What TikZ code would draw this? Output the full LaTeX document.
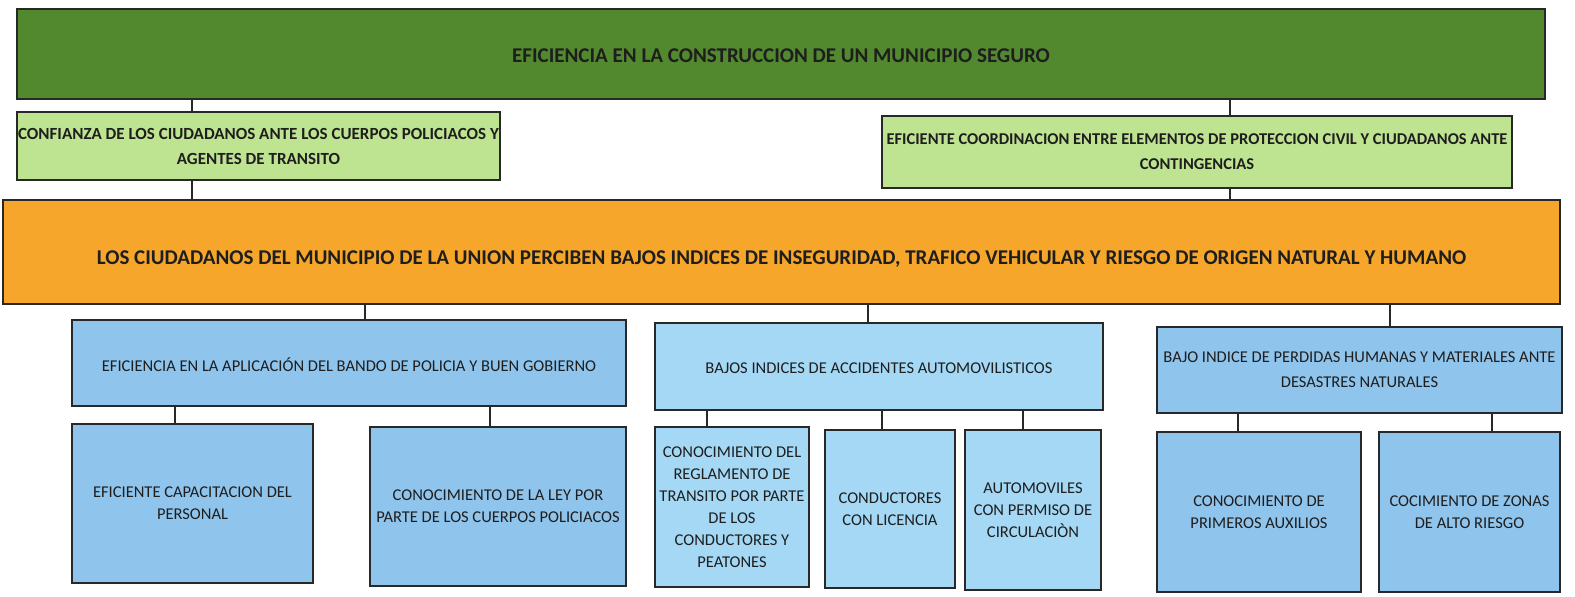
\documentclass[tikz,border=0pt]{standalone}
\usepackage{fontspec}
\setmainfont{Carlito}
\definecolor{dkgreen}{RGB}{82,136,46}
\definecolor{ltgreen}{RGB}{190,228,145}
\definecolor{orng}{RGB}{246,166,42}
\definecolor{blueA}{RGB}{143,196,236}
\definecolor{blueB}{RGB}{164,216,244}
\definecolor{txt}{RGB}{30,30,30}
\definecolor{edge}{RGB}{40,40,40}
\newcommand{\lowertxt}[2]{\raisebox{-#1pt}[0pt][0pt]{#2}}
\tikzset{
  box/.style={draw=edge, line width=1.6pt, inner sep=0.5pt, align=center, text=txt},
  topbox/.style={box, fill=dkgreen, font=\fontsize{21}{25}\selectfont\bfseries},
  midbox/.style={box, fill=ltgreen, font=\fontsize{17}{25}\selectfont\bfseries},
  orbox/.style={box, fill=orng, font=\fontsize{21}{25}\selectfont\bfseries},
  bluebox/.style={box, fill=blueA, font=\fontsize{16.5}{22}\selectfont},
  cyanbox/.style={box, fill=blueB, font=\fontsize{16.5}{22}\selectfont},
  link/.style={draw=edge, line width=1.6pt}
}
\begin{document}
\begin{tikzpicture}[x=1pt,y=-1pt]
\useasboundingbox (0,0) rectangle (1575,597);
% top
\node[topbox, minimum width=1528pt, minimum height=90pt] (top) at (781,54) {\lowertxt{8}{EFICIENCIA EN LA CONSTRUCCION DE UN MUNICIPIO SEGURO}};
% second level
\node[midbox, minimum width=483pt, minimum height=68pt] (lg1) at (258.5,146) {CONFIANZA DE LOS CIUDADANOS ANTE LOS CUERPOS POLICIACOS Y\\AGENTES DE TRANSITO};
\node[midbox, minimum width=630pt, minimum height=72pt, font=\fontsize{16.5}{25}\selectfont\bfseries] (lg2) at (1197,152) {EFICIENTE COORDINACION ENTRE ELEMENTOS DE PROTECCION CIVIL Y CIUDADANOS ANTE\\CONTINGENCIAS};
% orange
\node[orbox, minimum width=1557pt, minimum height=104pt] (org) at (781.5,252) {\lowertxt{12}{LOS CIUDADANOS DEL MUNICIPIO DE LA UNION PERCIBEN BAJOS INDICES DE INSEGURIDAD, TRAFICO VEHICULAR Y RIESGO DE ORIGEN NATURAL Y HUMANO}};
% blue level
\node[bluebox, minimum width=554pt, minimum height=86pt] (b1) at (349,363) {\lowertxt{8}{EFICIENCIA EN LA APLICACIÓN DEL BANDO DE POLICIA Y BUEN GOBIERNO}};
\node[cyanbox, minimum width=448pt, minimum height=87pt] (b2) at (879,366.5) {\lowertxt{7}{BAJOS INDICES DE ACCIDENTES AUTOMOVILISTICOS}};
\node[bluebox, minimum width=405pt, minimum height=86pt, font=\fontsize{16.5}{25}\selectfont] (b3) at (1359.5,370) {BAJO INDICE DE PERDIDAS HUMANAS Y MATERIALES ANTE\\DESASTRES NATURALES};
% bottom level
\node[bluebox, minimum width=241pt, minimum height=159pt] (b1a) at (192.5,503.5) {EFICIENTE CAPACITACION DEL\\PERSONAL};
\node[bluebox, minimum width=256pt, minimum height=159pt] (b1b) at (498,506.5) {CONOCIMIENTO DE LA LEY POR\\PARTE DE LOS CUERPOS POLICIACOS};
\node[cyanbox, minimum width=154pt, minimum height=160pt] (b2a) at (732,507) {CONOCIMIENTO DEL\\REGLAMENTO DE\\TRANSITO POR PARTE\\DE LOS\\CONDUCTORES Y\\PEATONES};
\node[cyanbox, minimum width=130pt, minimum height=158pt] (b2b) at (890,509) {CONDUCTORES\\CON LICENCIA};
\node[cyanbox, minimum width=136pt, minimum height=160pt] (b2c) at (1033,510) {AUTOMOVILES\\CON PERMISO DE\\CIRCULACIÒN};
\node[bluebox, minimum width=204pt, minimum height=160pt] (b3a) at (1259,512) {CONOCIMIENTO DE\\PRIMEROS AUXILIOS};
\node[bluebox, minimum width=181pt, minimum height=160pt] (b3b) at (1469.5,512) {COCIMIENTO DE ZONAS\\DE ALTO RIESGO};
% connector x positions
\coordinate (xa) at (192,0);
\coordinate (xb) at (1230,0);
\coordinate (xc) at (365,0);
\coordinate (xd) at (868,0);
\coordinate (xe) at (1390,0);
\coordinate (xf) at (175,0);
\coordinate (xg) at (490,0);
\coordinate (xh) at (707,0);
\coordinate (xi) at (882,0);
\coordinate (xj) at (1023,0);
\coordinate (xk) at (1238,0);
\coordinate (xl) at (1492,0);
\draw[link] (top.south -| xa) -- (lg1.north -| xa);
\draw[link] (top.south -| xb) -- (lg2.north -| xb);
\draw[link] (lg1.south -| xa) -- (org.north -| xa);
\draw[link] (lg2.south -| xb) -- (org.north -| xb);
\draw[link] (org.south -| xc) -- (b1.north -| xc);
\draw[link] (org.south -| xd) -- (b2.north -| xd);
\draw[link] (org.south -| xe) -- (b3.north -| xe);
\draw[link] (b1.south -| xf) -- (b1a.north -| xf);
\draw[link] (b1.south -| xg) -- (b1b.north -| xg);
\draw[link] (b2.south -| xh) -- (b2a.north -| xh);
\draw[link] (b2.south -| xi) -- (b2b.north -| xi);
\draw[link] (b2.south -| xj) -- (b2c.north -| xj);
\draw[link] (b3.south -| xk) -- (b3a.north -| xk);
\draw[link] (b3.south -| xl) -- (b3b.north -| xl);
\end{tikzpicture}
\end{document}
